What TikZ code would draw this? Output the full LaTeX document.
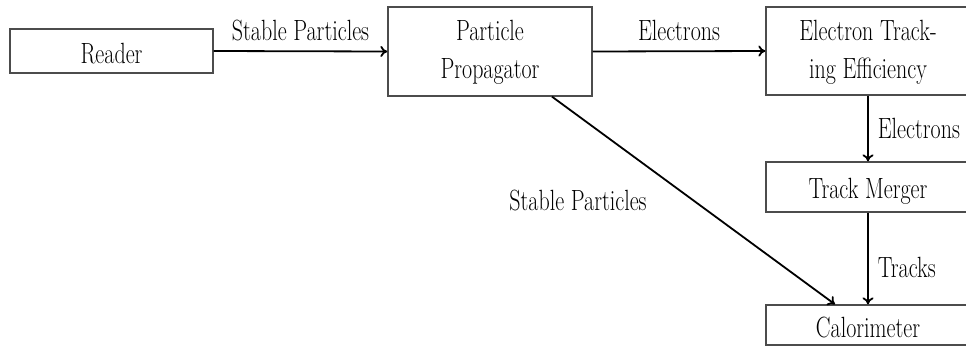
\documentclass[tikz,border=0pt]{standalone}
\usetikzlibrary{arrows.meta,calc}
\newcommand{\stt}[1]{\scalebox{1}[1.33]{#1}}
\begin{document}
\begin{tikzpicture}[x=1pt,y=-1pt,
  blk/.style={draw=black!70, line width=1.3pt, rectangle, inner sep=0pt, align=center},
  arr/.style={draw=black, line width=1.8pt, -{To[length=7pt,width=11pt]}},
  lbl/.style={inner sep=0pt, anchor=base},
  font=\fontsize{22}{28.5}\selectfont]
\useasboundingbox (0,0) rectangle (966,346);
\node[blk, minimum width=203pt, minimum height=44pt] (reader) at (111.5,51) {};
\node[lbl] at (111.5,63) {\stt{Reader}};
\node[blk, minimum width=204pt, minimum height=89pt] (prop) at (490,51.5) {};
\node[lbl] at (490,40) {\stt{Particle}};
\node[lbl] at (490,78) {\stt{Propagator}};
\node[blk, minimum width=204pt, minimum height=88pt] (ete) at (868,51) {};
\node[lbl] at (868,40) {\stt{Electron Track-}};
\node[lbl] at (868,78) {\stt{ing Efficiency}};
\node[blk, minimum width=204pt, minimum height=50pt] (merger) at (868,187) {};
\node[lbl] at (868,198) {\stt{Track Merger}};
\node[blk, minimum width=204pt, minimum height=40pt] (calo) at (868,325) {};
\node[lbl] at (868,337) {\stt{Calorimeter}};
\draw[arr] (reader.east) -- (prop.west) node[lbl, midway, yshift=11pt] {\stt{Stable Particles}};
\draw[arr] (prop.east) -- (ete.west) node[lbl, midway, yshift=11pt] {\stt{Electrons}};
\draw[arr] (ete.south) -- (merger.north) node[lbl, midway, anchor=base west, xshift=9pt, yshift=-9.5pt] {\stt{Electrons}};
\draw[arr] (merger.south) -- (calo.north) node[lbl, midway, anchor=base west, xshift=9pt, yshift=-18.5pt] {\stt{Tracks}};
\draw[arr] ($(prop.south)+(62,0)$) -- ($(calo.north)+(-33,0)$);
\node[lbl] (sp2) at (578,210) {\stt{Stable Particles}};
\end{tikzpicture}
\end{document}
